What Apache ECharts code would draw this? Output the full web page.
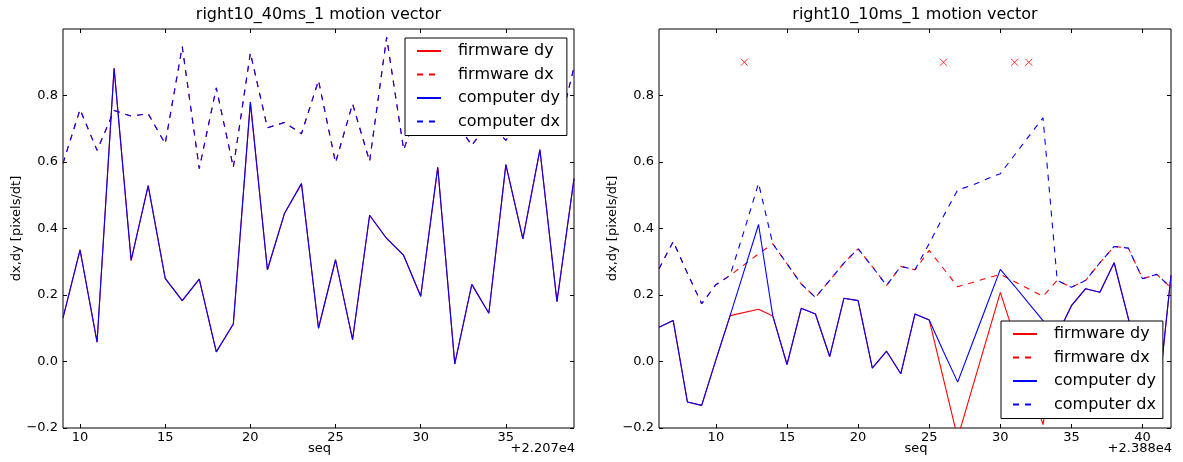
<!DOCTYPE html>
<html>
<head>
<meta charset="utf-8">
<script src="https://cdn.jsdelivr.net/npm/echarts@6/dist/echarts.min.js"></script>
<style>
  html, body { margin: 0; padding: 0; background: #fff; }
  #chart { width: 1183px; height: 462px; }
</style>
</head>
<body>
<div id="chart"></div>
<script>
// ---- right10_40ms_1 : firmware and computer estimates coincide ----
const seqA = [9, 10, 11, 12, 13, 14, 15, 16, 17, 18, 19, 20, 21, 22, 23, 24,
              25, 26, 27, 28, 29, 30, 31, 32, 33, 34, 35, 36, 37, 38, 39];
const dyA = [0.131, 0.336, 0.058, 0.882, 0.304, 0.529, 0.250, 0.183, 0.248, 0.029, 0.113,
             0.780, 0.276, 0.445, 0.535, 0.100, 0.306, 0.066, 0.440, 0.370, 0.319, 0.196,
             0.584, -0.007, 0.232, 0.145, 0.592, 0.369, 0.637, 0.180, 0.550];
const dxA = [0.596, 0.758, 0.635, 0.755, 0.738, 0.745, 0.655, 0.947, 0.580, 0.823, 0.584,
             0.928, 0.703, 0.719, 0.685, 0.845, 0.598, 0.775, 0.602, 0.975, 0.637, 0.780,
             0.740, 0.725, 0.650, 0.720, 0.665, 0.740, 0.800, 0.675, 0.885];

// ---- right10_10ms_1 : null = frame missing from the firmware log ----
const seqB = [6, 7, 8, 9, 10, 11, 12, 13, 14, 15, 16, 17, 18, 19, 20, 21, 22, 23, 24,
              25, 26, 27, 28, 29, 30, 31, 32, 33, 34, 35, 36, 37, 38, 39, 40, 41, 42];
const fwDyB = [0.103, 0.123, -0.122, -0.132, 0.005, 0.138, null, 0.157, 0.137, -0.009,
               0.160, 0.143, 0.015, 0.190, 0.183, -0.020, 0.031, -0.037, 0.143, 0.125,
               null, -0.230, -0.084, 0.062, 0.208, null, null, -0.190, 0.080, 0.168,
               0.219, 0.208, 0.297, 0.130, -0.040, -0.150, 0.259];
const fwDxB = [0.279, 0.361, 0.265, 0.174, 0.231, 0.259, null, 0.324, 0.354, 0.294,
               0.233, 0.193, 0.244, 0.296, 0.339, 0.285, 0.229, 0.286, 0.276, 0.334,
               null, 0.225, 0.237, 0.250, 0.262, null, null, 0.196, 0.244, 0.223,
               0.244, 0.297, 0.346, 0.341, 0.249, 0.262, 0.222];
const pcDyB = [0.103, 0.123, -0.122, -0.132, 0.005, 0.138, 0.275, 0.412, 0.137, -0.009,
               0.160, 0.143, 0.015, 0.190, 0.183, -0.020, 0.031, -0.037, 0.143, 0.125,
               0.030, -0.062, 0.051, 0.164, 0.277, 0.227, 0.175, 0.123, 0.080, 0.168,
               0.219, 0.208, 0.297, 0.130, -0.040, -0.150, 0.259];
const pcDxB = [0.279, 0.361, 0.265, 0.174, 0.231, 0.259, 0.395, 0.536, 0.354, 0.294,
               0.233, 0.193, 0.244, 0.296, 0.339, 0.285, 0.229, 0.286, 0.276, 0.355,
               0.437, 0.516, 0.530, 0.548, 0.565, 0.621, 0.677, 0.733, 0.244, 0.223,
               0.244, 0.297, 0.346, 0.341, 0.249, 0.262, 0.222];
const dropSeqB = [12, 26, 31, 32];
const dropLevelB = [0.9, 0.9, 0.9, 0.9];

// ---- axes and text ----
const xTicksA = [10, 15, 20, 25, 30, 35];
const xTicksB = [10, 15, 20, 25, 30, 35, 40];
const yTicks = [-0.2, 0.0, 0.2, 0.4, 0.6, 0.8];
const titles = ['right10_40ms_1 motion vector', 'right10_10ms_1 motion vector'];
const offsetTexts = ['+2.207e4', '+2.388e4'];
const seriesNames = ['firmware dy', 'firmware dx', 'computer dy', 'computer dx'];
const yName = 'dx,dy [pixels/dt]';
const xName = 'seq';

const FONT = '"DejaVu Sans", "Liberation Sans", sans-serif';
const RED = '#ff0000', BLUE = '#0000ff';
const DASH = [6, 6];
const LINE_W = 1.1;

const grids = [
  { left: 63, top: 29, width: 511, height: 399 },
  { left: 659, top: 29, width: 512, height: 399 }
];

const pairs = (xs, ys) => xs.map((x, i) => [x, ys[i]]).filter(p => p[1] !== null);
const fmtY = v => v.toFixed(1).replace('-', '\u2212');

function xAxes(gi, min, max, ticks) {
  const base = {
    type: 'value', gridIndex: gi, min: min, max: max,
    axisLine: { show: false, onZero: false }, splitLine: { show: false },
    axisTick: { inside: true, length: 4, customValues: ticks, lineStyle: { color: '#000', width: 1 } }
  };
  return [
    Object.assign({}, base, {
      position: 'bottom',
      axisLabel: { customValues: ticks, color: '#000', fontSize: 13, fontFamily: FONT, margin: 3 }
    }),
    Object.assign({}, base, { position: 'top', axisLabel: { show: false } })
  ];
}
function yAxes(gi) {
  const base = {
    type: 'value', gridIndex: gi, min: -0.2, max: 1.0,
    axisLine: { show: false, onZero: false }, splitLine: { show: false },
    axisTick: { inside: true, length: 4, customValues: yTicks, lineStyle: { color: '#000', width: 1 } }
  };
  return [
    Object.assign({}, base, {
      position: 'left',
      axisLabel: { customValues: yTicks, formatter: fmtY, color: '#000', fontSize: 13, fontFamily: FONT, margin: 5 }
    }),
    Object.assign({}, base, { position: 'right', axisLabel: { show: false } })
  ];
}

function lineSeries(name, gi, data, color, dashed) {
  return {
    type: 'line', name: name, xAxisIndex: gi * 2, yAxisIndex: gi * 2,
    data: data, symbol: 'none', showSymbol: false, animation: false,
    lineStyle: { color: color, width: LINE_W, type: dashed ? DASH : 'solid' },
    itemStyle: { color: color },
    emphasis: { disabled: true }
  };
}

const series = [
  // left panel: firmware drawn first, computer on top
  lineSeries(seriesNames[0], 0, pairs(seqA, dyA), RED, false),
  lineSeries(seriesNames[1], 0, pairs(seqA, dxA), RED, true),
  lineSeries(seriesNames[2], 0, pairs(seqA, dyA), BLUE, false),
  lineSeries(seriesNames[3], 0, pairs(seqA, dxA), BLUE, true),
  // right panel
  lineSeries(seriesNames[0], 1, pairs(seqB, fwDyB), RED, false),
  lineSeries(seriesNames[1], 1, pairs(seqB, fwDxB), RED, true),
  lineSeries(seriesNames[2], 1, pairs(seqB, pcDyB), BLUE, false),
  lineSeries(seriesNames[3], 1, pairs(seqB, pcDxB), BLUE, true),
  {
    type: 'scatter', name: 'dropped', xAxisIndex: 2, yAxisIndex: 2,
    data: pairs(dropSeqB, dropLevelB), animation: false,
    symbol: 'path://M0,0L10,10M10,0L0,10', symbolSize: 7,
    itemStyle: { color: 'none', borderColor: RED, borderWidth: 1 },
    emphasis: { disabled: true }
  }
];

function legendAt(left, top) {
  return {
    data: seriesNames, orient: 'vertical', left: left, top: top,
    padding: [5, 7, 6, 11], itemGap: 7.5, itemWidth: 24, itemHeight: 14,
    backgroundColor: '#fff', borderColor: '#000', borderWidth: 1,
    selectedMode: false,
    // only the line sample is shown, no marker on it
    itemStyle: { opacity: 0 },
    textStyle: { color: '#000', fontSize: 16, fontFamily: FONT, lineHeight: 16, padding: [0, 0, 0, 12] }
  };
}

function textEl(text, x, y, size, align, rotation) {
  return {
    type: 'text', x: x, y: y, rotation: rotation || 0, silent: true,
    style: { text: text, fill: '#000', font: size + 'px ' + FONT, align: align, verticalAlign: 'middle' }
  };
}

const graphic = [];
grids.forEach((g, i) => {
  const cx = g.left + g.width / 2;
  const cy = g.top + g.height / 2;
  graphic.push(textEl(titles[i], cx, 15, 16, 'center'));
  graphic.push(textEl(xName, cx + 1, 448.5, 13, 'center'));
  graphic.push(textEl(offsetTexts[i], g.left + g.width + 1, 448.5, 13, 'right'));
  graphic.push(textEl(yName, g.left - 46.5, cy, 13, 'center', Math.PI / 2));
});

const chart = echarts.init(document.getElementById('chart'), null, { renderer: 'canvas' });
chart.setOption({
  animation: false,
  backgroundColor: '#fff',
  grid: grids.map(g => Object.assign({ show: true, borderColor: '#000', borderWidth: 1, backgroundColor: 'transparent', containLabel: false }, g)),
  xAxis: xAxes(0, 9, 39, xTicksA).concat(xAxes(1, 6, 42, xTicksB)),
  yAxis: yAxes(0).concat(yAxes(1)),
  legend: [legendAt(405, 38), legendAt(1001, 321)],
  series: series,
  graphic: graphic
});
</script>
</body>
</html>
